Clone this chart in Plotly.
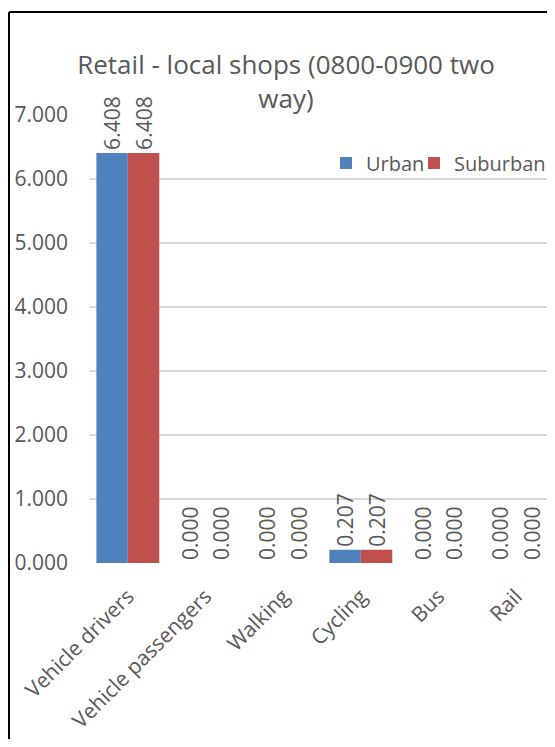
import plotly.graph_objects as go

categories = ["Vehicle drivers", "Vehicle passengers", "Walking", "Cycling", "Bus", "Rail"]
urban = [6.408, 0.000, 0.000, 0.207, 0.000, 0.000]
suburban = [6.408, 0.000, 0.000, 0.207, 0.000, 0.000]
y_ticks = [0, 1, 2, 3, 4, 5, 6, 7]
y_tick_labels = ["0.000", "1.000", "2.000", "3.000", "4.000", "5.000", "6.000", "7.000"]
title_text = "Retail - local shops (0800-0900 two<br>way)"

FONT = "Open Sans"
GRAY = "#595959"
# page body has an 8px margin; figure is sized so that it fits the 555x747 window
W, H = 547, 731
L, R, T, B = 81, 0, 107, 176

pw = W - L - R
ph = H - T - B
def px_x(p):
    return (p - L) / pw
def px_y(p):
    return (H - B - p) / ph

fig = go.Figure()
series = [("Urban", urban, "#4F81BD", "legend", 318), ("Suburban", suburban, "#C0504D", "legend2", 406)]
for name, vals, col, leg, _ in series:
    fig.add_trace(go.Bar(
        x=categories, y=vals, name=name, marker=dict(color=col, line=dict(width=0)),
        text=[f"{v:.3f}" for v in vals], textposition="outside", textangle=-90,
        textfont=dict(family=FONT, size=21, color=GRAY), cliponaxis=False,
        constraintext="none", legend=leg,
    ))

legend_common = dict(orientation="h", xanchor="left", yanchor="middle",
                     font=dict(family=FONT, size=20, color=GRAY), bgcolor="rgba(0,0,0,0)",
                     borderwidth=0)

fig.update_layout(
    width=W, height=H,
    margin=dict(l=L, r=R, t=T, b=B, pad=0, autoexpand=False),
    paper_bgcolor="white", plot_bgcolor="white",
    barmode="group", bargap=0.19, bargroupgap=0,
    font=dict(family=FONT, size=21, color=GRAY),
    title=dict(text=title_text, x=278 / W, xanchor="center", xref="container",
               y=1 - 66 / H, yanchor="middle", yref="container",
               font=dict(family=FONT, size=26, color=GRAY)),
    legend=dict(x=px_x(series[0][4]), y=px_y(155), **legend_common),
    legend2=dict(x=px_x(series[1][4]), y=px_y(155), **legend_common),
    showlegend=True,
    xaxis=dict(tickangle=-45, showgrid=False, showline=False, ticks="",
               ticklabelstandoff=16,
               tickfont=dict(family=FONT, size=21, color=GRAY)),
    yaxis=dict(range=[0, 7], tickvals=y_ticks, ticktext=y_tick_labels,
               showgrid=True, gridcolor="#D9D9D9", gridwidth=1.5, zeroline=False,
               showline=False, ticks="", ticklabelstandoff=20,
               tickfont=dict(family=FONT, size=21, color=GRAY)),
    shapes=[
        dict(type="line", xref="paper", yref="paper", x0=px_x(1), x1=px_x(1), y0=px_y(4), y1=px_y(760),
             line=dict(color="black", width=2)),
        dict(type="line", xref="paper", yref="paper", x0=px_x(1), x1=px_x(570), y0=px_y(4), y1=px_y(4),
             line=dict(color="black", width=2)),
    ],
)

fig.write_html("out.html")
